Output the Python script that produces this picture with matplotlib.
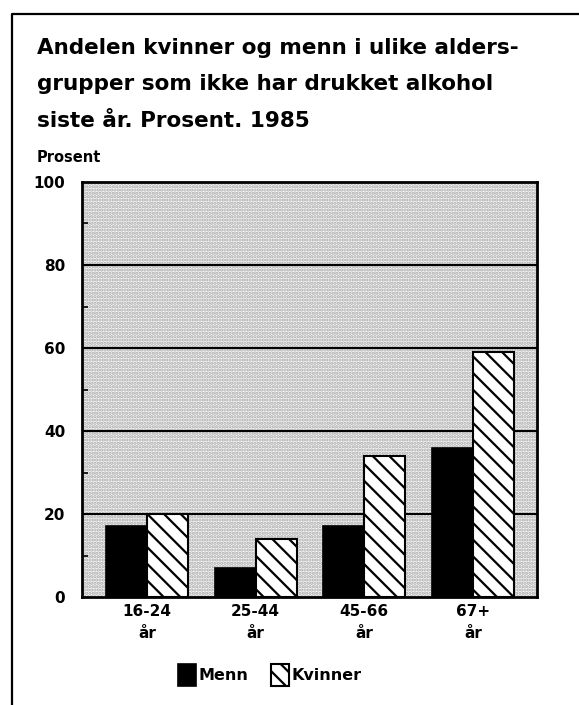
import numpy as np
import matplotlib
matplotlib.use("Agg")
import matplotlib.pyplot as plt
import matplotlib.patches as mpatches
from matplotlib.lines import Line2D

plt.rcParams['font.family'] = ['DejaVu Sans']
plt.rcParams['font.weight'] = 'bold'
plt.rcParams['hatch.linewidth'] = 1.6

# data
grupper = ['16-24\når', '25-44\når', '45-66\når', '67+\når']
menn = [17, 7, 17, 36]
kvinner = [20, 14, 34, 59]
yticks = [0, 20, 40, 60, 80, 100]

fig = plt.figure(figsize=(5.79, 7.05), dpi=100)
W, H = 579, 705
ax = fig.add_axes([82 / W, 1 - 597 / H, (537 - 82) / W, (597 - 182) / H])

# prikkete bakgrunn
ax.set_facecolor('#f5f5f5')
bg = mpatches.Rectangle((0, 0), 1, 1, transform=ax.transAxes, facecolor='none',
                        edgecolor='#a8a8a8', hatch='.....', linewidth=0, zorder=0)
ax.add_patch(bg)

x = np.arange(len(grupper))
w = 0.377
ax.bar(x - w / 2, menn, w, color='black', edgecolor='black', linewidth=1.2, zorder=3, label='Menn')
ax.bar(x + w / 2, kvinner, w, color='white', edgecolor='black', hatch='\\\\',
       linewidth=1.5, zorder=3, label='Kvinner')

ax.set_ylim(0, 100)
ax.set_xlim(-0.598, 3.589)
for v in [20, 40, 60, 80]:
    ax.axhline(v, color='black', linewidth=1.5, zorder=1)

ax.set_yticks(yticks)
ax.set_yticklabels([str(t) for t in yticks], fontsize=11, fontweight='bold')
ax.set_yticks([10, 30, 50, 70, 90], minor=True)
ax.tick_params(axis='y', which='major', length=0, pad=12)
ax.tick_params(axis='y', which='minor', length=4, width=1.2, direction='in')
ax.set_xticks(x)
ax.set_xticklabels(grupper, fontsize=11, fontweight='bold', linespacing=1.6)
ax.tick_params(axis='x', length=0, pad=5)
for s in ax.spines.values():
    s.set_linewidth(2)

fig.text(37 / W, 1 - 158 / H, 'Prosent', fontsize=10.5, fontweight='bold', va='center', ha='left')

tittel = ['Andelen kvinner og menn i ulike alders-',
          'grupper som ikke har drukket alkohol',
          'siste år. Prosent. 1985']
for i, linje in enumerate(tittel):
    fig.text(37 / W, 1 - (48 + 36.5 * i) / H, linje, fontsize=15.5, fontweight='bold',
             va='center', ha='left')

# ramme
fig.add_artist(Line2D([12 / W, 12 / W, 1], [0, 1 - 14 / H, 1 - 14 / H],
                      transform=fig.transFigure, color='black', linewidth=1.6))

fig.legend(loc='center', bbox_to_anchor=(270 / W, 1 - 675 / H), ncol=2, frameon=False,
           fontsize=11.5, handlelength=1.1, handleheight=1.7, handletextpad=0.2,
           columnspacing=1.4)

fig.savefig('out.png', dpi=100)
